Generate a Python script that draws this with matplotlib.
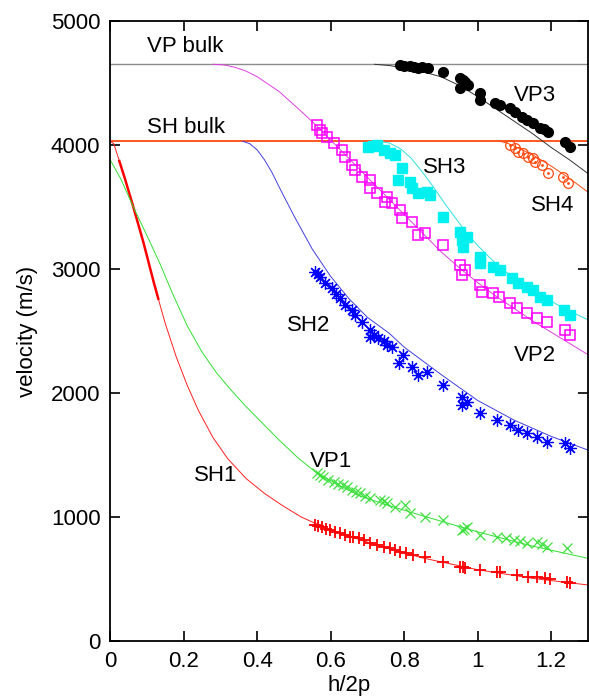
import numpy as np
import matplotlib
matplotlib.use('Agg')
import matplotlib.pyplot as plt

# bulk velocities
vp_bulk = 4650
sh_bulk = 4030

# theoretical dispersion curves
sh1_x = [0.0, 0.01, 0.025, 0.04, 0.063, 0.09, 0.118, 0.131, 0.15, 0.18, 0.21, 0.24, 0.28, 0.32, 0.37, 0.42, 0.47, 0.52, 0.58, 0.65, 0.74, 0.85, 1.0, 1.15, 1.3]
sh1_y = [4030, 4010, 3870, 3730, 3500, 3220, 2900, 2760, 2560, 2290, 2060, 1860, 1640, 1470, 1310, 1190, 1090, 1000, 920, 845, 760, 670, 575, 505, 452]
vp1_x = [0.0, 0.03, 0.063, 0.1, 0.136, 0.17, 0.21, 0.25, 0.29, 0.33, 0.37, 0.42, 0.46, 0.51, 0.56, 0.62, 0.68, 0.75, 0.85, 1.0, 1.15, 1.3]
vp1_y = [3880, 3720, 3500, 3270, 3040, 2800, 2540, 2330, 2160, 2020, 1890, 1740, 1620, 1480, 1360, 1260, 1170, 1100, 1010, 880, 765, 667]
sh2_x = [0.36, 0.38, 0.40, 0.42, 0.44, 0.46, 0.50, 0.55, 0.60, 0.65, 0.70, 0.76, 0.80, 0.90, 1.0, 1.1, 1.2, 1.3]
sh2_y = [4030, 4010, 3960, 3880, 3780, 3660, 3430, 3160, 2940, 2760, 2610, 2480, 2370, 2150, 1940, 1780, 1650, 1540]
vp2_x = [0.28, 0.31, 0.34, 0.37, 0.40, 0.43, 0.46, 0.49, 0.52, 0.56, 0.60, 0.65, 0.70, 0.75, 0.80, 0.85, 0.90, 0.95, 1.0, 1.05, 1.1, 1.15, 1.2, 1.25, 1.3]
vp2_y = [4650, 4645, 4625, 4595, 4550, 4490, 4430, 4350, 4270, 4160, 4040, 3890, 3740, 3590, 3440, 3290, 3140, 3010, 2890, 2780, 2680, 2580, 2490, 2400, 2310]
sh3_x = [0.73, 0.76, 0.79, 0.82, 0.85, 0.88, 0.91, 0.94, 0.97, 1.0, 1.04, 1.08, 1.12, 1.17, 1.23, 1.3]
sh3_y = [4030, 4015, 3970, 3890, 3780, 3660, 3530, 3410, 3290, 3190, 3070, 2970, 2880, 2790, 2690, 2590]
vp3_x = [0.72, 0.76, 0.80, 0.85, 0.90, 0.95, 1.0, 1.05, 1.1, 1.15, 1.2, 1.25, 1.3]
vp3_y = [4650, 4640, 4620, 4590, 4550, 4480, 4390, 4290, 4190, 4090, 3980, 3880, 3770]
sh4_x = [1.06, 1.08, 1.1, 1.15, 1.2, 1.25, 1.3]
sh4_y = [4030, 4015, 3990, 3920, 3830, 3730, 3620]

# measured points
sh1_px = [0.558, 0.565, 0.576, 0.587, 0.599, 0.612, 0.626, 0.640, 0.653, 0.662, 0.676, 0.690, 0.707, 0.725, 0.744, 0.762, 0.775, 0.789, 0.805, 0.825, 0.857, 0.907, 0.952, 0.960, 0.966, 1.007, 1.052, 1.062, 1.107, 1.138, 1.161, 1.184, 1.197, 1.243, 1.252]
sh1_py = [935, 930, 917, 905, 895, 880, 869, 855, 842, 836, 828, 812, 788, 775, 761, 747, 736, 720, 708, 694, 680, 640, 600, 595, 586, 573, 559, 555, 532, 519, 519, 505, 500, 479, 470]
vp1_px = [0.562, 0.570, 0.580, 0.594, 0.608, 0.620, 0.635, 0.645, 0.658, 0.668, 0.680, 0.694, 0.707, 0.735, 0.745, 0.753, 0.776, 0.803, 0.816, 0.857, 0.907, 0.957, 0.962, 0.971, 1.007, 1.052, 1.078, 1.098, 1.115, 1.134, 1.161, 1.175, 1.188, 1.243]
vp1_py = [1352, 1340, 1325, 1300, 1285, 1270, 1258, 1240, 1218, 1205, 1191, 1170, 1151, 1137, 1125, 1110, 1083, 1097, 1030, 1003, 976, 895, 905, 922, 855, 842, 830, 815, 805, 788, 801, 785, 761, 747]
sh2_px = [0.558, 0.565, 0.571, 0.585, 0.603, 0.615, 0.626, 0.639, 0.658, 0.667, 0.685, 0.707, 0.707, 0.718, 0.730, 0.745, 0.753, 0.767, 0.785, 0.798, 0.821, 0.839, 0.862, 0.907, 0.957, 0.957, 0.971, 1.007, 1.052, 1.088, 1.111, 1.134, 1.161, 1.188, 1.238, 1.252]
sh2_py = [2978, 2960, 2938, 2884, 2844, 2800, 2763, 2710, 2669, 2629, 2575, 2508, 2454, 2470, 2441, 2420, 2387, 2374, 2240, 2306, 2212, 2145, 2172, 2065, 1970, 1903, 1930, 1836, 1782, 1742, 1702, 1675, 1648, 1608, 1594, 1554]
vp2_px = [0.562, 0.571, 0.576, 0.590, 0.608, 0.630, 0.639, 0.658, 0.667, 0.685, 0.707, 0.707, 0.726, 0.753, 0.748, 0.767, 0.789, 0.794, 0.821, 0.839, 0.857, 0.907, 0.952, 0.966, 0.957, 1.007, 1.011, 1.043, 1.057, 1.088, 1.107, 1.134, 1.161, 1.188, 1.238, 1.252]
vp2_py = [4161, 4121, 4097, 4067, 4016, 3960, 3906, 3839, 3798, 3745, 3718, 3653, 3613, 3583, 3543, 3530, 3476, 3409, 3382, 3274, 3290, 3194, 3032, 2992, 2952, 2871, 2817, 2804, 2777, 2723, 2682, 2642, 2602, 2575, 2508, 2468]
sh3_px = [0.703, 0.715, 0.726, 0.744, 0.762, 0.776, 0.794, 0.784, 0.816, 0.821, 0.839, 0.862, 0.871, 0.907, 0.952, 0.957, 0.961, 0.971, 1.007, 1.007, 1.043, 1.061, 1.093, 1.111, 1.134, 1.152, 1.170, 1.188, 1.234, 1.252]
sh3_py = [3986, 3995, 4000, 3960, 3933, 3919, 3812, 3718, 3704, 3650, 3610, 3624, 3597, 3422, 3301, 3234, 3180, 3261, 3099, 3046, 3019, 2992, 2925, 2884, 2857, 2831, 2777, 2750, 2669, 2629]
vp3_px = [0.789, 0.800, 0.816, 0.828, 0.838, 0.850, 0.865, 0.906, 0.952, 0.960, 0.966, 0.952, 0.975, 1.007, 1.007, 1.048, 1.062, 1.088, 1.102, 1.121, 1.135, 1.151, 1.170, 1.180, 1.192, 1.238, 1.252]
vp3_py = [4645, 4640, 4637, 4625, 4621, 4625, 4621, 4589, 4540, 4520, 4508, 4460, 4480, 4419, 4363, 4339, 4320, 4298, 4266, 4226, 4202, 4177, 4137, 4125, 4105, 4024, 3984]
sh4_px = [1.088, 1.102, 1.110, 1.124, 1.137, 1.151, 1.156, 1.175, 1.192, 1.233, 1.246]
sh4_py = [4000, 3976, 3944, 3935, 3903, 3895, 3863, 3839, 3774, 3742, 3694]

labels = ['VP bulk', 'SH bulk', 'VP3', 'SH3', 'SH4', 'SH2', 'VP2', 'VP1', 'SH1']
label_x = [0.10, 0.10, 1.10, 0.85, 1.145, 0.48, 1.10, 0.545, 0.228]
label_y = [4790, 4140, 4400, 3815, 3510, 2545, 2300, 1450, 1335]

orange = '#ff4a10'

plt.rcParams['font.family'] = ['Liberation Sans', 'DejaVu Sans']
fig = plt.figure(figsize=(5.89, 6.96), dpi=100)
ax = fig.add_axes([0.187, 0.079, 0.811, 0.891])

ax.axhline(vp_bulk, color='#8c8c8c', lw=1.0)
ax.axhline(sh_bulk, color=orange, lw=1.3)

ax.plot(sh1_x, sh1_y, color='#ff2020', lw=0.7)
thick = np.array(sh1_x)
m = (thick >= 0.02) & (thick <= 0.135)
ax.plot(thick[m], np.array(sh1_y)[m], color='#ff0000', lw=1.8)
ax.plot(vp1_x, vp1_y, color='#30e030', lw=0.7)
ax.plot(sh2_x, sh2_y, color='#4040e0', lw=0.7)
ax.plot(vp2_x, vp2_y, color='#e040e0', lw=0.7)
ax.plot(sh3_x, sh3_y, color='#30e0e0', lw=0.7)
ax.plot(vp3_x, vp3_y, color='#333333', lw=0.7)
ax.plot(sh4_x, sh4_y, color=orange, lw=0.7)

ax.plot(sh1_px, sh1_py, '+', color='#ff0000', ms=8, mew=1.3, ls='none')
ax.plot(vp1_px, vp1_py, 'x', color='#40e040', ms=7, mew=0.9, ls='none')
ax.plot(sh2_px, sh2_py, marker=(8, 2, 0), color='#0000ff', ms=9, mew=0.9, ls='none')
ax.plot(vp2_px, vp2_py, 's', color='#ff00ff', mfc='none', ms=7.5, mew=1.1, ls='none')
ax.plot(sh3_px, sh3_py, 's', color='#00f0f0', ms=7.5, ls='none')
ax.plot(vp3_px, vp3_py, 'o', color='black', ms=7, ls='none')
ax.plot(sh4_px, sh4_py, 'o', color=orange, mfc='none', ms=7, mew=0.9, ls='none')
ax.plot(sh4_px, sh4_py, '.', color=orange, ms=2, ls='none')

for t, x, y in zip(labels, label_x, label_y):
    ax.text(x, y, t, fontsize=16, ha='left', va='center')

ax.set_xlim(0, 1.3)
ax.set_ylim(0, 5000)
ax.set_xticks([0, 0.2, 0.4, 0.6, 0.8, 1.0, 1.2])
ax.set_xticklabels(['0', '0.2', '0.4', '0.6', '0.8', '1', '1.2'])
ax.set_yticks([0, 1000, 2000, 3000, 4000, 5000])
ax.tick_params(direction='in', length=7, width=1.2, top=True, right=True, labelsize=16, pad=7)
for s in ax.spines.values():
    s.set_linewidth(1.3)
ax.set_xlabel('h/2p', fontsize=16, labelpad=2)
ax.set_ylabel('velocity (m/s)', fontsize=16, labelpad=9)

fig.savefig('out.png', dpi=100)
